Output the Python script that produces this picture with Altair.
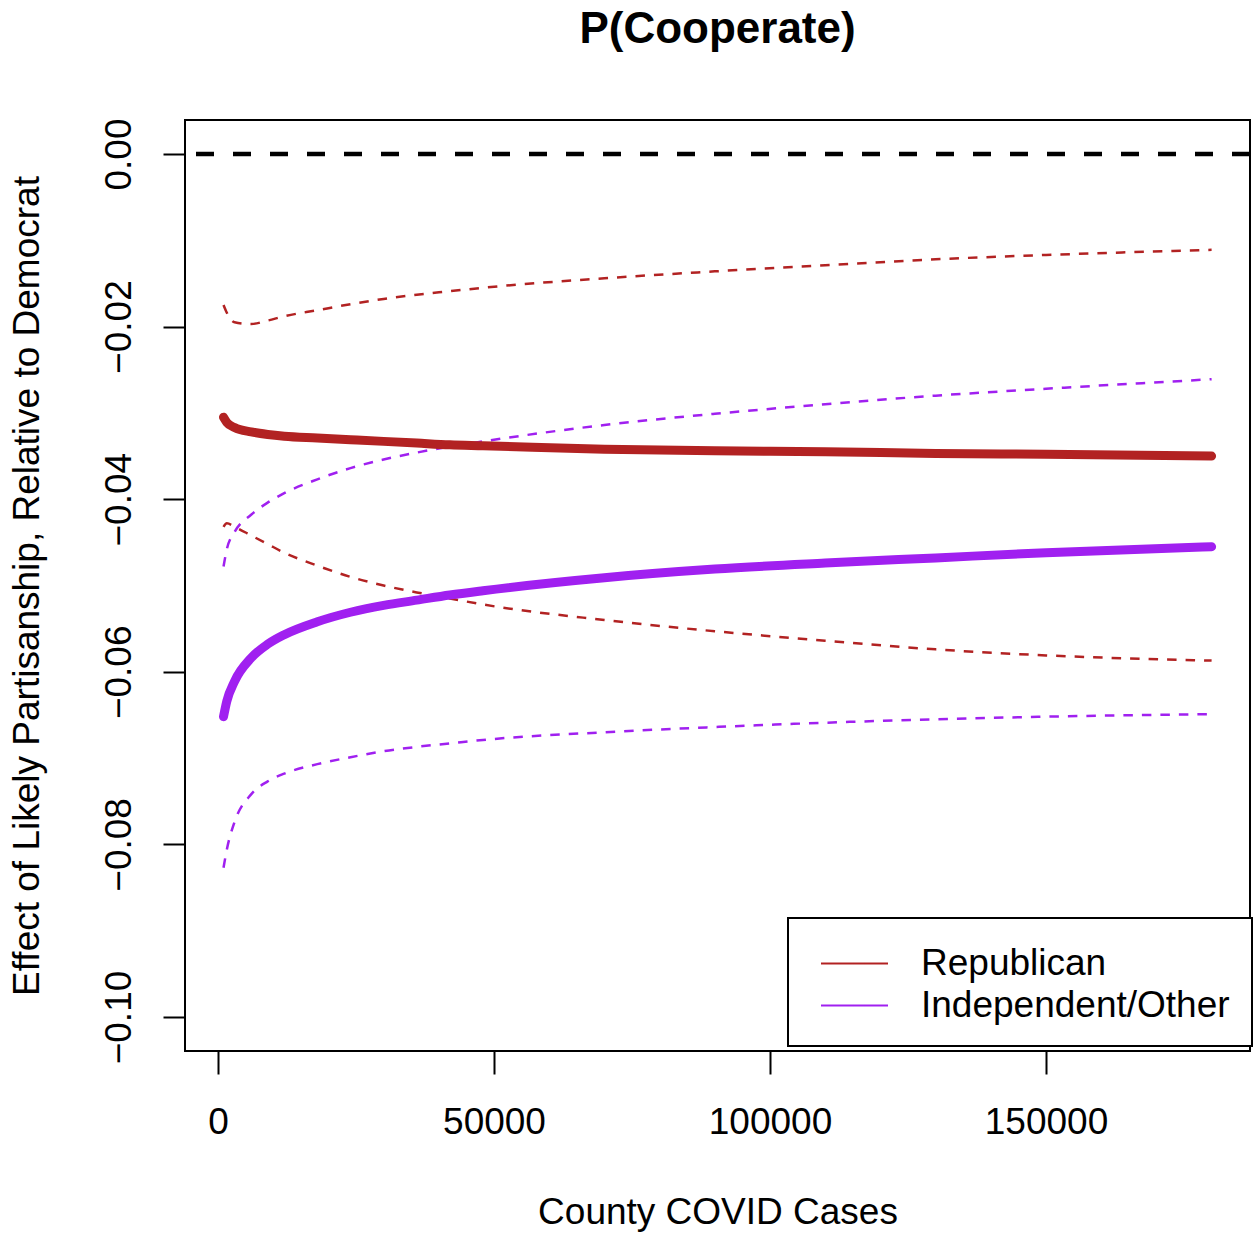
import altair as alt
import pandas as pd

# ---- data ----
cases = [1000, 1600, 3000, 6000, 9000, 12000, 18000, 24000, 30000, 36000,
         42000, 48000, 70000, 90000, 110000, 130000, 150000, 180000]

rep_mean = [-0.0305, -0.0311, -0.0317, -0.0322, -0.0325, -0.0327, -0.0329, -0.0331, -0.0333,
            -0.0335, -0.0337, -0.0338, -0.0342, -0.0344, -0.0345, -0.0347, -0.0348, -0.0350]
rep_hi = [-0.0175, -0.0184, -0.0195, -0.0197, -0.0193, -0.0188, -0.0181, -0.0174, -0.0168,
          -0.0163, -0.0159, -0.0155, -0.0144, -0.0136, -0.0129, -0.0122, -0.0117, -0.0111]
rep_lo = [-0.0432, -0.0428, -0.0432, -0.0442, -0.0452, -0.0462, -0.0477, -0.0490, -0.0500,
          -0.0508, -0.0515, -0.0522, -0.0540, -0.0553, -0.0564, -0.0574, -0.0581, -0.0587]

ind_mean = [-0.0652, -0.0634, -0.0611, -0.0584, -0.0568, -0.0557, -0.0542, -0.0531, -0.0523,
            -0.0517, -0.0511, -0.0506, -0.0491, -0.0481, -0.0474, -0.0468, -0.0462, -0.0455]
ind_hi = [-0.0478, -0.0458, -0.0438, -0.0418, -0.0404, -0.0393, -0.0377, -0.0364, -0.0354,
          -0.0346, -0.0339, -0.0333, -0.0314, -0.0301, -0.0290, -0.0280, -0.0272, -0.0261]
ind_lo = [-0.0827, -0.0806, -0.0774, -0.0742, -0.0727, -0.0718, -0.0707, -0.0699, -0.0692,
          -0.0687, -0.0683, -0.0679, -0.0670, -0.0664, -0.0659, -0.0655, -0.0652, -0.0649]

parties = ["Republican", "Independent/Other"]
colors = ["#B22222", "#A020F0"]
x_ticks = [0, 50000, 100000, 150000]
y_ticks = [-0.10, -0.08, -0.06, -0.04, -0.02, 0.0]

rows = []
for party, series in [("Republican", {"mean": rep_mean, "hi": rep_hi, "lo": rep_lo}),
                      ("Independent/Other", {"mean": ind_mean, "hi": ind_hi, "lo": ind_lo})]:
    for kind, vals in series.items():
        for c, v in zip(cases, vals):
            rows.append({"cases": c, "effect": v, "party": party, "kind": kind,
                         "line": party + "_" + kind})
df = pd.DataFrame(rows)

FONT = "Liberation Sans"

xscale = alt.Scale(domain=[-5978, 186957], nice=False, zero=False)
yscale = alt.Scale(domain=[-0.10394, 0.00394], nice=False, zero=False)
cscale = alt.Scale(domain=parties, range=colors)

legend = alt.Legend(title=None, orient="none", legendX=603, legendY=798,
                    symbolType="M-1.5,0H1.5", symbolSize=1998, symbolStrokeWidth=2,
                    symbolDash=[1, 0], symbolOffset=21, padding=22,
                    labelFontSize=37, labelFont=FONT, labelColor="black", labelLimit=0,
                    labelOffset=43, rowPadding=0,
                    strokeColor="black", fillColor="white")

xenc = alt.X("cases:Q", scale=xscale,
             axis=alt.Axis(values=x_ticks, format="d", title="County COVID Cases",
                           tickSize=23, labelPadding=59, labelBaseline="alphabetic",
                           titleBaseline="alphabetic", titleX=532.5, titleY=172,
                           titleAnchor="middle"))
yenc = alt.Y("effect:Q", scale=yscale,
             axis=alt.Axis(values=y_ticks, format=".2f",
                           title="Effect of Likely Partisanship, Relative to Democrat",
                           tickSize=22, labelPadding=33, labelAngle=270,
                           labelAlign="center", labelBaseline="alphabetic",
                           titleAngle=270, titleAlign="center", titleBaseline="alphabetic",
                           titleX=-147, titleY=465.5))

base = alt.Chart(df)

zero = alt.Chart(pd.DataFrame({"z": [0.0]})).mark_rule(
    color="black", strokeWidth=4.5, strokeDash=[18, 19]
).encode(y=alt.Y("z:Q", scale=yscale))

ci = base.transform_filter(alt.datum.kind != "mean").mark_line(
    strokeWidth=2.5, strokeDash=[9.5, 9], interpolate="monotone"
).encode(x=xenc, y=yenc, color=alt.Color("party:N", scale=cscale, legend=legend),
         detail="line:N")

mean = base.transform_filter(alt.datum.kind == "mean").mark_line(
    strokeWidth=9, strokeCap="round", interpolate="monotone"
).encode(x=xenc, y=yenc, color=alt.Color("party:N", scale=cscale, legend=legend),
         detail="line:N")

chart = alt.layer(zero, ci, mean).properties(
    width=1065, height=931,
    background="white",
    title=alt.Title("P(Cooperate)", fontSize=44, fontWeight="bold", font=FONT,
                    anchor="middle", baseline="alphabetic", offset=31, color="black"),
    autosize=alt.AutoSizeParams(type="none"),
    padding={"left": 185, "top": 120, "right": 4, "bottom": 182},
).configure_view(stroke="black", strokeWidth=2).configure_axis(
    domain=False, grid=False, tickColor="black", tickWidth=2,
    labelFont=FONT, labelFontSize=37, labelColor="black",
    titleFont=FONT, titleFontSize=37, titleColor="black", titleFontWeight="normal",
    labelFlush=False, labelOverlap=False
).configure_legend(strokeWidth=2)

chart.save("out.html", embed_options={"renderer": "svg", "actions": False})
